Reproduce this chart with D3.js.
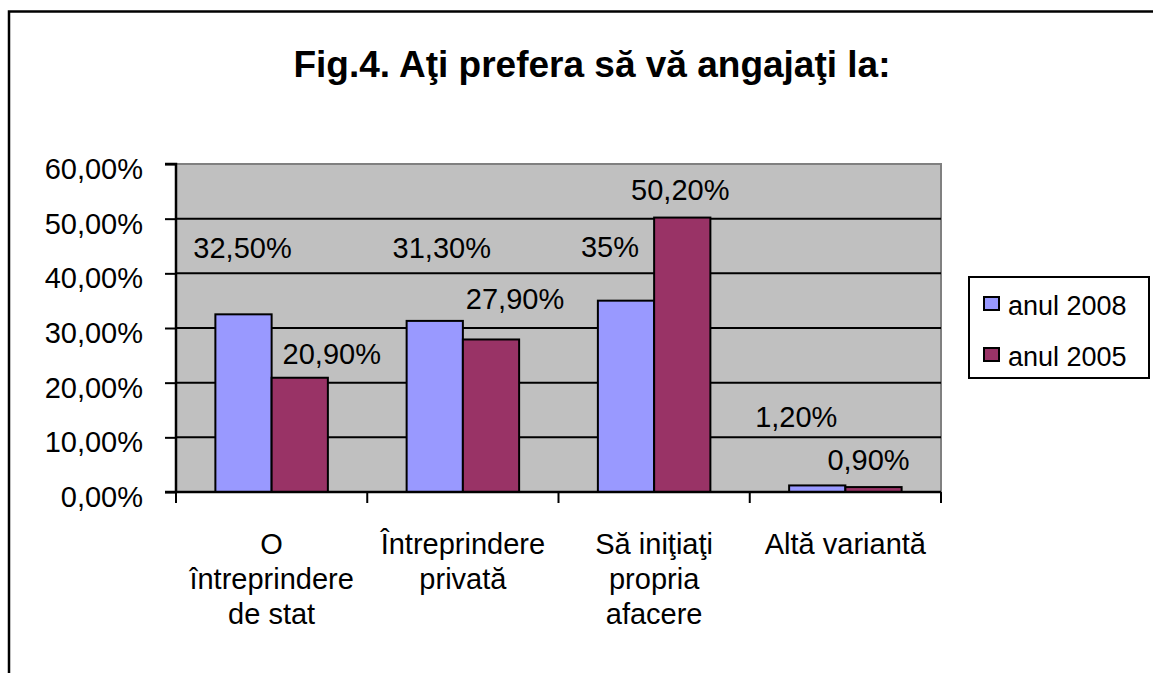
<!DOCTYPE html>
<html>
<head>
<meta charset="utf-8">
<script src="https://cdn.jsdelivr.net/npm/d3@7"></script>
<style>
  body { margin: 0; background: #fff; }
  svg text { font-family: "Liberation Sans", Arial, sans-serif; fill: #000; }
</style>
</head>
<body>
<div id="chart"></div>
<script>
const categories = [
  ['O', 'întreprindere', 'de stat'],
  ['Întreprindere', 'privată'],
  ['Să iniţiaţi', 'propria', 'afacere'],
  ['Altă variantă']
]
const seriesNames = ['anul 2008', 'anul 2005']
const values2008 = [32.5, 31.3, 35, 1.2]
const values2005 = [20.9, 27.9, 50.2, 0.9]
const labels2008 = ['32,50%', '31,30%', '35%', '1,20%']
const labels2005 = ['20,90%', '27,90%', '50,20%', '0,90%']
const yTicks = [0, 10, 20, 30, 40, 50, 60]
const yTickLabels = ['0,00%', '10,00%', '20,00%', '30,00%', '40,00%', '50,00%', '60,00%']

// data labels were dragged around by hand in the original, keep the nudges apart
const labelNudge = [
  [[-1, -56], [32, -14]],
  [[7, -63], [24, -30]],
  [[-16, -44], [-2, -18]],
  [[-21, -58], [-5, -17]]
]

const colors = ['#9999FF', '#993366']
const W = 1153, H = 673
const plot = {left: 176, right: 941, top: 164, bottom: 492}

const svg = d3.select('#chart').append('svg')
  .attr('width', W).attr('height', H)

// outer frame (top and left edges only are visible)
svg.append('path')
  .attr('d', `M9,673 V11.5 H1153`)
  .attr('fill', 'none').attr('stroke', '#000').attr('stroke-width', 2.5)

svg.append('text')
  .attr('x', 592).attr('y', 77)
  .attr('text-anchor', 'middle')
  .style('font-size', '37px').style('font-weight', 'bold')
  .text('Fig.4. Aţi prefera să vă angajaţi la:')

const x = d3.scaleBand()
  .domain(d3.range(categories.length))
  .range([plot.left, plot.right])

const gap = 1.4
const barW = x.bandwidth() / (2 + gap)
const y = d3.scaleLinear().domain([0, 60]).range([plot.bottom, plot.top])

// plot area
svg.append('rect')
  .attr('x', plot.left).attr('y', plot.top)
  .attr('width', plot.right - plot.left).attr('height', plot.bottom - plot.top)
  .attr('fill', '#C0C0C0').attr('stroke', '#808080').attr('stroke-width', 2)

// grid
svg.append('g').selectAll('line')
  .data(yTicks.slice(1, -1))
  .join('line')
  .attr('x1', plot.left).attr('x2', plot.right)
  .attr('y1', d => y(d)).attr('y2', d => y(d))
  .attr('stroke', '#000').attr('stroke-width', 2)

// bars
const series = [values2008, values2005]
series.forEach((vals, s) => {
  svg.append('g').selectAll('rect')
    .data(vals)
    .join('rect')
    .attr('x', (d, i) => x(i) + barW * gap / 2 + s * barW)
    .attr('y', d => y(d))
    .attr('width', barW)
    .attr('height', d => y(0) - y(d))
    .attr('fill', colors[s])
    .attr('stroke', '#000').attr('stroke-width', 2)
})

// y axis
const yAxis = d3.axisLeft(y)
  .tickValues(yTicks)
  .tickSize(11)
  .tickPadding(22)
  .tickFormat((d, i) => yTickLabels[i])

const yg = svg.append('g')
  .attr('transform', `translate(${plot.left},0)`)
  .call(yAxis)
yg.select('.domain').attr('stroke', '#000').attr('stroke-width', 2.5)
  .attr('d', `M-11,${plot.top}H0V${plot.bottom}`)
yg.selectAll('.tick line').attr('stroke', '#000').attr('stroke-width', 2)
yg.selectAll('.tick text')
  .style('font-size', '29px').style('font-family', '"Liberation Sans", Arial, sans-serif')
  .attr('dy', '0.5em')

// x axis: ticks on category boundaries
const xg = svg.append('g')
xg.append('line')
  .attr('x1', plot.left - 11).attr('x2', plot.right)
  .attr('y1', plot.bottom).attr('y2', plot.bottom)
  .attr('stroke', '#000').attr('stroke-width', 2.5)
xg.selectAll('.xtick')
  .data(d3.range(categories.length + 1))
  .join('line')
  .attr('class', 'xtick')
  .attr('x1', d => d < categories.length ? x(d) : plot.right)
  .attr('x2', d => d < categories.length ? x(d) : plot.right)
  .attr('y1', plot.bottom).attr('y2', plot.bottom + 11)
  .attr('stroke', '#000').attr('stroke-width', 2)

xg.selectAll('.xlabel')
  .data(categories)
  .join('text')
  .attr('class', 'xlabel')
  .attr('text-anchor', 'middle')
  .style('font-size', '29px')
  .selectAll('tspan')
  .data((d, i) => d.map(t => ({t, i})))
  .join('tspan')
  .attr('x', d => x(d.i) + x.bandwidth() / 2)
  .attr('y', (d, j) => 554 + j * 35)
  .text(d => d.t)

// data labels
const labels = [labels2008, labels2005]
series.forEach((vals, s) => {
  svg.append('g').selectAll('text')
    .data(vals)
    .join('text')
    .attr('text-anchor', 'middle')
    .style('font-size', '29px')
    .attr('x', (d, i) => x(i) + barW * gap / 2 + s * barW + barW / 2 + labelNudge[i][s][0])
    .attr('y', (d, i) => y(d) + labelNudge[i][s][1])
    .text((d, i) => labels[s][i])
})

// legend
const lg = svg.append('g')
lg.append('rect')
  .attr('x', 969).attr('y', 277).attr('width', 180).attr('height', 101)
  .attr('fill', '#fff').attr('stroke', '#000').attr('stroke-width', 2)
const items = lg.selectAll('.item')
  .data(seriesNames)
  .join('g')
  .attr('class', 'item')
  .attr('transform', (d, i) => `translate(984,${297 + i * 51})`)
items.append('rect')
  .attr('width', 15).attr('height', 13)
  .attr('fill', (d, i) => colors[i])
  .attr('stroke', '#000').attr('stroke-width', 2)
items.append('text')
  .attr('x', 24).attr('y', 18)
  .style('font-size', '27px')
  .text(d => d)
</script>
</body>
</html>
